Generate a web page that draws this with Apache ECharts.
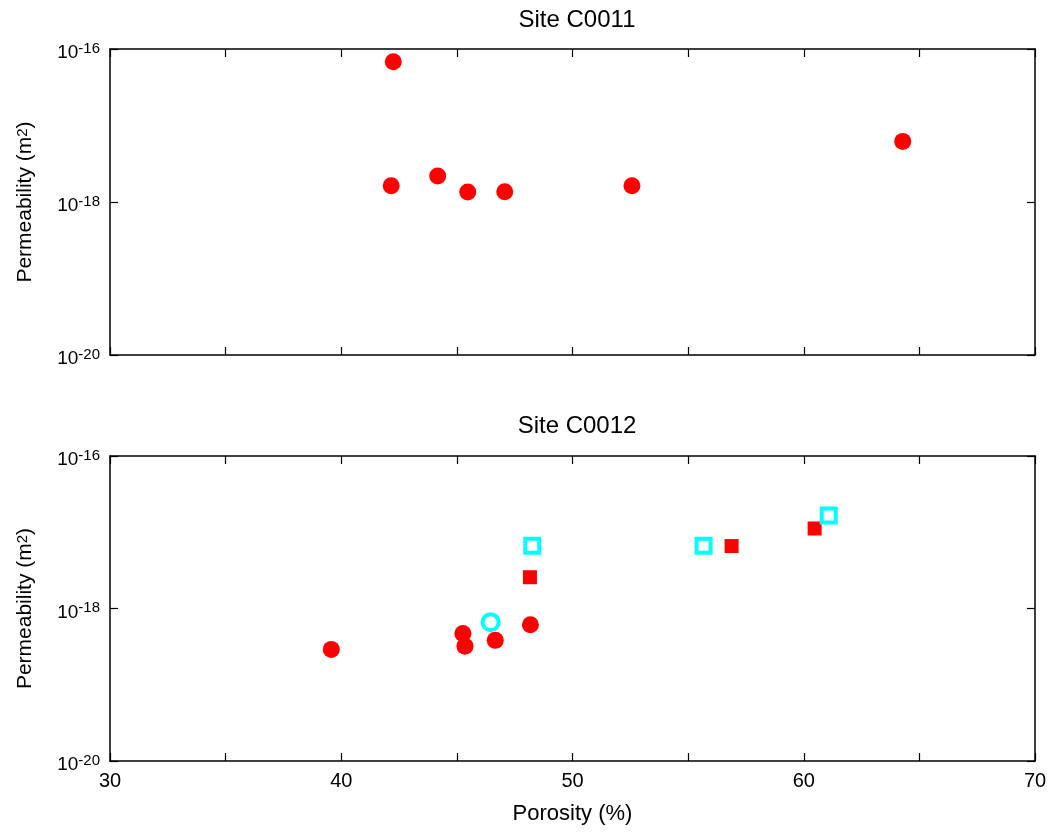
<!DOCTYPE html>
<html>
<head>
<meta charset="utf-8">
<script src="https://cdn.jsdelivr.net/npm/echarts@6/dist/echarts.min.js"></script>
<style>
  html, body { margin: 0; padding: 0; background: #fff; }
  #chart { width: 1051px; height: 833px; }
</style>
</head>
<body>
<div id="chart"></div>
<script>
// Site C0011 - red circles
const c0011Circles = [
  [42.25, 6.8e-17], [42.16, 1.63e-18], [44.17, 2.19e-18], [45.47, 1.35e-18],
  [47.07, 1.36e-18], [52.57, 1.63e-18], [64.28, 6.2e-18]
]
// Site C0012
const c0012Circles = [
  [39.57, 2.91e-19], [45.26, 4.71e-19], [45.35, 3.21e-19], [46.66, 3.82e-19], [48.18, 6.12e-19]
]
const c0012Squares = [[48.16, 2.57e-18], [56.88, 6.59e-18], [60.47, 1.12e-17]]
const c0012OpenCircles = [[46.46, 6.62e-19]]
const c0012OpenSquares = [[48.26, 6.66e-18], [55.67, 6.66e-18], [61.08, 1.66e-17]]

const titles = ['Site C0011', 'Site C0012']
const xTicks = [30, 70, 5]       // min, max, interval
const yRange = [1e-20, 1e-16]

const font = 'Liberation Sans, Arial, Helvetica, sans-serif'
const black = '#000'

const richLabel = {
  base: { fontSize: 19, fontFamily: font, color: black, lineHeight: 24 },
  sup: { fontSize: 15, fontFamily: font, color: black, verticalAlign: 'top', lineHeight: 15 }
}
function expLabel (v) {
  const e = Math.round(Math.log10(v))
  return '{base|10}{sup|' + e + '}'
}

const grids = [
  { left: 110, top: 49, width: 925, height: 306 },
  { left: 110, top: 456, width: 925, height: 305 }
]

const xAxis = []
const yAxis = []
grids.forEach((g, i) => {
  const isBottom = i === 1
  // bottom x-axis
  xAxis.push({
    type: 'value', gridIndex: i, position: 'bottom',
    min: xTicks[0], max: xTicks[1], interval: xTicks[2],
    axisLine: { show: true, lineStyle: { color: black, width: 1.5 } },
    axisTick: { show: true, inside: true, length: 8, lineStyle: { color: black, width: 1.2 } },
    splitLine: { show: false },
    axisLabel: {
      show: isBottom, fontSize: 20, fontFamily: font, color: black, margin: 10,
      formatter: v => (v % 10 === 0 ? String(v) : '')
    },
    name: isBottom ? 'Porosity (%)' : '',
    nameLocation: 'middle', nameGap: 42,
    nameTextStyle: { fontSize: 22, fontFamily: font, color: black }
  })
  // top mirror axis
  xAxis.push({
    type: 'value', gridIndex: i, position: 'top',
    min: xTicks[0], max: xTicks[1], interval: xTicks[2],
    axisLine: { show: true, lineStyle: { color: black, width: 1.5 } },
    axisTick: { show: true, inside: true, length: 8, lineStyle: { color: black, width: 1.2 } },
    splitLine: { show: false },
    axisLabel: { show: false }
  })
  yAxis.push({
    type: 'log', logBase: 100, gridIndex: i, position: 'left',
    min: yRange[0], max: yRange[1],
    axisLine: { show: true, lineStyle: { color: black, width: 1.5 } },
    axisTick: { show: true, inside: true, length: 8, lineStyle: { color: black, width: 1.2 } },
    minorTick: { show: false },
    splitLine: { show: false },
    axisLabel: { formatter: expLabel, rich: richLabel, margin: 10, padding: [8, 0, 0, 0] },
    name: 'Permeability (m{sup|2})',
    nameLocation: 'middle', nameGap: 74, nameRotate: 90,
    nameTextStyle: {
      fontSize: 21, fontFamily: font, color: black,
      rich: {
        sup: { fontSize: 15, fontFamily: font, color: black, verticalAlign: 'top', lineHeight: 15 }
      }
    }
  })
  yAxis.push({
    type: 'log', logBase: 100, gridIndex: i, position: 'right',
    min: yRange[0], max: yRange[1],
    axisLine: { show: true, lineStyle: { color: black, width: 1.5 } },
    axisTick: { show: true, inside: true, length: 8, lineStyle: { color: black, width: 1.2 } },
    splitLine: { show: false },
    axisLabel: { show: false }
  })
})

const redFill = { color: '#ff0000', opacity: 1 }
const cyanOpen = { color: '#ffffff', borderColor: '#00ffff', borderWidth: 4, opacity: 1 }

const series = [
  { type: 'scatter', xAxisIndex: 0, yAxisIndex: 0, symbol: 'circle', symbolSize: 17, itemStyle: redFill, data: c0011Circles },
  { type: 'scatter', xAxisIndex: 2, yAxisIndex: 2, symbol: 'circle', symbolSize: 17, itemStyle: redFill, data: c0012Circles },
  { type: 'scatter', xAxisIndex: 2, yAxisIndex: 2, symbol: 'rect', symbolSize: 14, itemStyle: redFill, data: c0012Squares },
  { type: 'scatter', xAxisIndex: 2, yAxisIndex: 2, symbol: 'circle', symbolSize: 16, itemStyle: cyanOpen, data: c0012OpenCircles },
  { type: 'scatter', xAxisIndex: 2, yAxisIndex: 2, symbol: 'rect', symbolSize: 14, itemStyle: cyanOpen, data: c0012OpenSquares }
]

const chart = echarts.init(document.getElementById('chart'))
chart.setOption({
  animation: false,
  backgroundColor: '#fff',
  title: [
    { text: titles[0], left: 572, top: 3, textAlign: 'center', textStyle: { fontSize: 24, fontWeight: 'normal', fontFamily: font, color: black } },
    { text: titles[1], left: 572, top: 409, textAlign: 'center', textStyle: { fontSize: 24, fontWeight: 'normal', fontFamily: font, color: black } }
  ],
  grid: grids,
  xAxis: xAxis,
  yAxis: yAxis,
  series: series
})
</script>
</body>
</html>
